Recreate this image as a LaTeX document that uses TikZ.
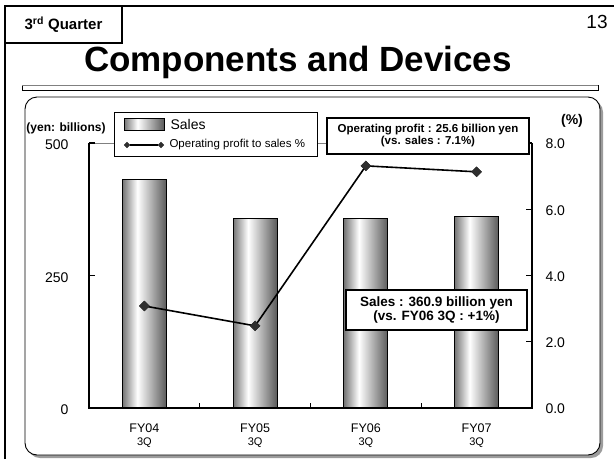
\documentclass[tikz,border=0pt]{standalone}
\usepackage{fontspec}
\setmainfont{Liberation Sans}
\usepackage{tikz}
\usetikzlibrary{shapes.geometric}
\definecolor{edgegray}{HTML}{757575}
\definecolor{darkedge}{HTML}{5A5A5A}
\definecolor{markgray}{HTML}{2E2E2E}
\definecolor{shadowgray}{HTML}{9C9C9C}
\definecolor{bordergray}{HTML}{808080}
\pgfdeclarehorizontalshading{barshade}{100bp}{color(0bp)=(edgegray); color(25bp)=(edgegray); color(42bp)=(white); color(75bp)=(darkedge); color(100bp)=(darkedge)}
\newcommand{\ys}[1]{408-0.53*#1}
\newcommand{\yp}[1]{408-33.125*#1}

\begin{document}
\begin{tikzpicture}[x=1pt,y=-1pt,
		bar/.style={draw=black,line width=0.9pt,shade,shading=barshade},
		ptmark/.style={diamond,draw=markgray,fill=markgray,inner sep=0pt,minimum size=10pt},
		lgmark/.style={diamond,draw=markgray,fill=markgray,inner sep=0pt,minimum size=6pt},
		notebox/.style={draw,line width=1.3pt,fill=white,align=center,inner sep=2pt},
		axlabel/.style={font=\fontsize{14}{14}\selectfont},
		catlabel/.style={font=\fontsize{12.5}{12.5}\selectfont}]
	\useasboundingbox (0,0) rectangle (614,459);
	\fill[white] (0,0) rectangle (614,459);

	% page frame and heading
	\draw[line width=2.2pt] (5,459) -- (5,6) -- (614,6);
	\draw[line width=1.2pt] (5,6) rectangle (122,43);
	\node (quarter) at (63.5,24.5) {\fontsize{15}{15}\selectfont\bfseries 3\textsuperscript{rd} Quarter};
	\node (page) at (597,22) {\fontsize{19}{19}\selectfont 13};
	\node (title) at (298,62) {\fontsize{35}{35}\selectfont\bfseries Components and Devices};
	\draw[line width=0.9pt,fill=white] (22,85) rectangle (598,90);
	\draw[bordergray,line width=0.9pt] (22,85) -- (598,85);

	% chart frame
	\fill[shadowgray,rounded corners=12pt] (28,100) rectangle (603,458);
	\draw[line width=0.9pt,fill=white,rounded corners=12pt] (25,97) rectangle (600,455);

	% plot area
	\draw[bordergray,line width=0.9pt] (89,143) -- (532,143);
	\foreach \x/\v in {144.4/432,255.1/357,365.9/357,476.6/360.9}
		\path[bar] (\x-22,408) rectangle (\x+22,{\ys{\v}});
	\draw[line width=1.1pt] (89,143) -- (89,408) -- (532,408) -- (532,143);
	\foreach \v in {250,500}
		\draw[line width=1.1pt] (89,{\ys{\v}}) -- (95,{\ys{\v}});
	\foreach \p in {2,4,6,8}
		\draw[line width=1.1pt] (532,{\yp{\p}}) -- (526,{\yp{\p}});
	\foreach \x in {199.8,310.5,421.3}
		\draw[line width=1.1pt] (\x,408) -- (\x,403);

	% axis labels
	\foreach \v in {0,250,500}
		\node[axlabel,anchor=east] (left\v) at (72,{\ys{\v}+2}) {\v};
	\foreach \p/\t in {0/0.0,2/2.0,4/4.0,6/6.0,8/8.0}
		\node[axlabel,anchor=west] (right\p) at (542,{\yp{\p}+1}) {\t};
	\node (unit) at (66,128) {\fontsize{12}{12}\selectfont\bfseries (yen: billions)};
	\node (pct) at (572,121) {\fontsize{14}{14}\selectfont\bfseries (\%)};
	\foreach \x/\lab [count=\i] in {144.4/FY04,255.1/FY05,365.9/FY06,476.6/FY07} {
		\node[catlabel] (cat\i) at (\x,428) {\lab};
		\node[font=\fontsize{11}{11}\selectfont] (q\i) at (\x,443) {3Q};
	}

	% profit ratio line
	\foreach \x/\p [count=\i] in {144.4/3.08,255.1/2.48,365.9/7.31,476.6/7.13}
		\node[ptmark] (p\i) at (\x,{\yp{\p}}) {};
	\draw[line width=1.6pt] (p1.center) -- (p2.center) -- (p3.center) -- (p4.center);
	\foreach \i in {1,...,4}
		\node[ptmark] at (p\i) {};

	% legend
	\draw[line width=0.9pt,fill=white] (114,112) rectangle (317,156);
	\path[bar] (124,118) rectangle (164,130);
	\node[anchor=west] (lgsales) at (167,124) {\fontsize{14}{14}\selectfont Sales};
	\node[lgmark] (lg1) at (127,145) {};
	\node[lgmark] (lg2) at (161,145) {};
	\draw[line width=1.3pt] (lg1) -- (lg2);
	\node[anchor=west] (lgprofit) at (166,145) {\fontsize{11.5}{11.5}\selectfont Operating profit to sales \%};

	% call-outs
	\node[notebox,minimum width=202pt,minimum height=36pt] (profitnote) at (428,136)
		{\fontsize{11.5}{13}\selectfont\bfseries Operating profit : 25.6 billion yen\\ \fontsize{11.5}{13}\selectfont\bfseries (vs. sales : 7.1\%)};
	\node[notebox,minimum width=181pt,minimum height=40pt] (salesnote) at (436.5,310)
		{\fontsize{13.5}{15}\selectfont\bfseries Sales : 360.9 billion yen\\ \fontsize{13.5}{15}\selectfont\bfseries (vs. FY06 3Q : +1\%)};
\end{tikzpicture}
\end{document}
